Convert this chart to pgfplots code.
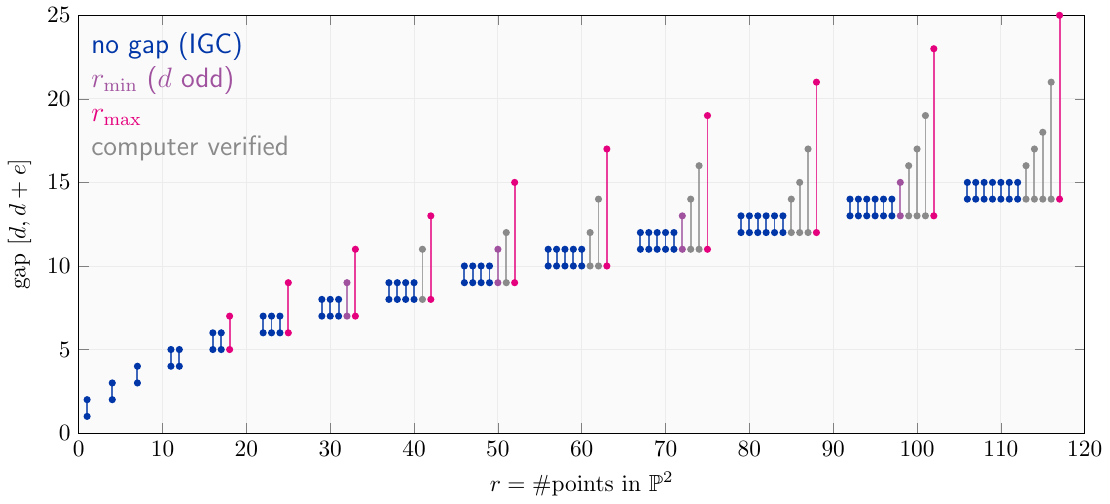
\documentclass[border=0pt]{standalone}
\usepackage{pgfplots}
\pgfplotsset{compat=1.18}
\usepackage{amssymb}
\definecolor{igcblue}{HTML}{0036A8}
\definecolor{rminpurple}{HTML}{A0529F}
\definecolor{rmaxmag}{HTML}{E5007D}
\definecolor{verigray}{HTML}{8A8A8A}
\begin{document}
\begin{tikzpicture}
\begin{axis}[
  scale only axis,
  width=431pt, height=179pt,
  xmin=0, xmax=120, ymin=0, ymax=25,
  xtick={0,10,...,120},
  ytick={0,5,...,25},
  grid=major,
  major grid style={gray!15},
  axis background/.style={fill=black!2},
  xlabel={$r=\#\mathrm{points\ in\ }\mathbb{P}^2$},
  ylabel={$\mathrm{gap}\ [d,d+e]$},
  unbounded coords=jump,
  every axis plot/.append style={line width=0.8pt, mark=*, mark size=1.1pt,
    draw opacity=0.75, mark options={solid, opacity=1}},
]
  % no gap (IGC)
  \addplot[igcblue] coordinates {
    (1,1)(1,2)(nan,nan) (4,2)(4,3)(nan,nan) (7,3)(7,4)(nan,nan)
    (11,4)(11,5)(nan,nan) (12,4)(12,5)(nan,nan)
    (16,5)(16,6)(nan,nan) (17,5)(17,6)(nan,nan)
    (22,6)(22,7)(nan,nan) (23,6)(23,7)(nan,nan) (24,6)(24,7)(nan,nan)
    (29,7)(29,8)(nan,nan) (30,7)(30,8)(nan,nan) (31,7)(31,8)(nan,nan)
    (37,8)(37,9)(nan,nan) (38,8)(38,9)(nan,nan) (39,8)(39,9)(nan,nan) (40,8)(40,9)(nan,nan)
    (46,9)(46,10)(nan,nan) (47,9)(47,10)(nan,nan) (48,9)(48,10)(nan,nan) (49,9)(49,10)(nan,nan)
    (56,10)(56,11)(nan,nan) (57,10)(57,11)(nan,nan) (58,10)(58,11)(nan,nan) (59,10)(59,11)(nan,nan) (60,10)(60,11)(nan,nan)
    (67,11)(67,12)(nan,nan) (68,11)(68,12)(nan,nan) (69,11)(69,12)(nan,nan) (70,11)(70,12)(nan,nan) (71,11)(71,12)(nan,nan)
    (79,12)(79,13)(nan,nan) (80,12)(80,13)(nan,nan) (81,12)(81,13)(nan,nan) (82,12)(82,13)(nan,nan) (83,12)(83,13)(nan,nan) (84,12)(84,13)(nan,nan)
    (92,13)(92,14)(nan,nan) (93,13)(93,14)(nan,nan) (94,13)(94,14)(nan,nan) (95,13)(95,14)(nan,nan) (96,13)(96,14)(nan,nan) (97,13)(97,14)(nan,nan)
    (106,14)(106,15)(nan,nan) (107,14)(107,15)(nan,nan) (108,14)(108,15)(nan,nan) (109,14)(109,15)(nan,nan) (110,14)(110,15)(nan,nan) (111,14)(111,15)(nan,nan) (112,14)(112,15)
  };
  % r_min (d odd)
  \addplot[rminpurple] coordinates {
    (32,7)(32,9)(nan,nan) (50,9)(50,11)(nan,nan) (72,11)(72,13)(nan,nan) (98,13)(98,15)
  };
  % computer verified
  \addplot[verigray] coordinates {
    (41,8)(41,11)(nan,nan) (51,9)(51,12)(nan,nan)
    (61,10)(61,12)(nan,nan) (62,10)(62,14)(nan,nan)
    (73,11)(73,14)(nan,nan) (74,11)(74,16)(nan,nan)
    (85,12)(85,14)(nan,nan) (86,12)(86,15)(nan,nan) (87,12)(87,17)(nan,nan)
    (99,13)(99,16)(nan,nan) (100,13)(100,17)(nan,nan) (101,13)(101,19)(nan,nan)
    (113,14)(113,16)(nan,nan) (114,14)(114,17)(nan,nan) (115,14)(115,18)(nan,nan) (116,14)(116,21)
  };
  % r_max
  \addplot[rmaxmag] coordinates {
    (18,5)(18,7)(nan,nan) (25,6)(25,9)(nan,nan) (33,7)(33,11)(nan,nan)
    (42,8)(42,13)(nan,nan) (52,9)(52,15)(nan,nan) (63,10)(63,17)(nan,nan)
    (75,11)(75,19)(nan,nan) (88,12)(88,21)(nan,nan) (102,13)(102,23)(nan,nan)
    (117,14)(117,25)
  };
  \node[anchor=north west, align=left, inner sep=0pt, font=\sffamily\large]
    at (rel axis cs:0.012,0.96) {%
    \textcolor{igcblue}{no gap (IGC)}\\[0.5pt]
    \textcolor{rminpurple}{$r_{\min}$ ($d$ odd)}\\[0.5pt]
    \textcolor{rmaxmag}{$r_{\max}$}\\[0.5pt]
    \textcolor{verigray}{computer verified}};
\end{axis}
\end{tikzpicture}
\end{document}
